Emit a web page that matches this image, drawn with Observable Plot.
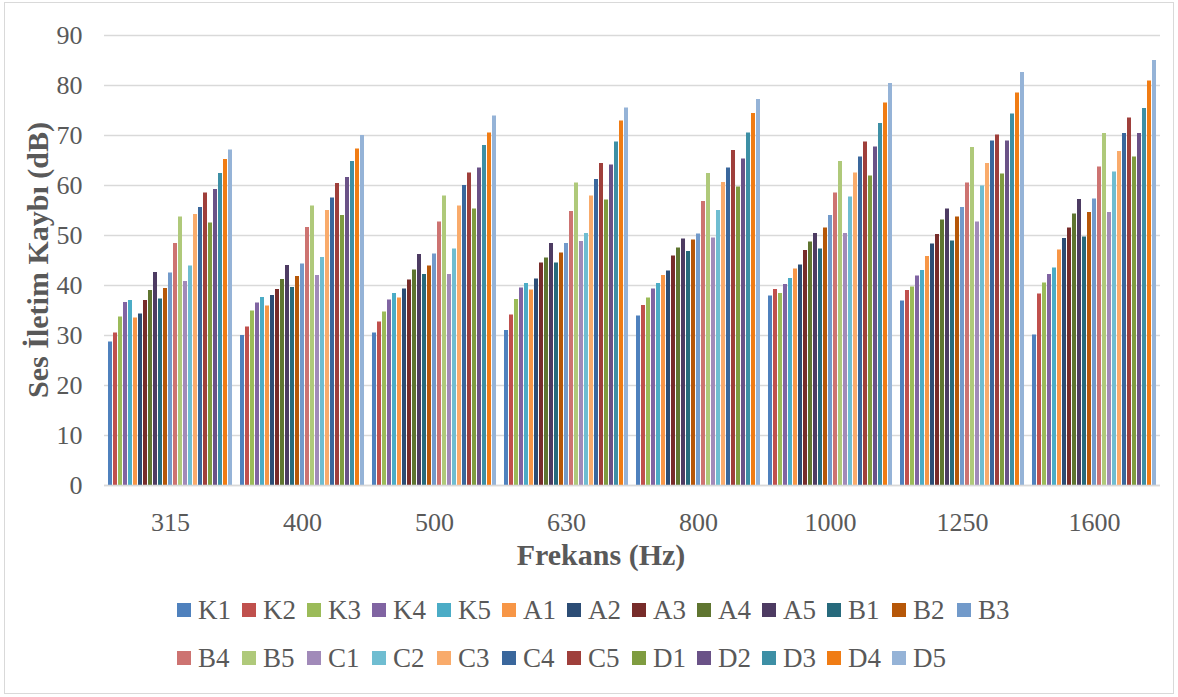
<!DOCTYPE html>
<html>
<head>
<meta charset="utf-8">
<script src="https://cdn.jsdelivr.net/npm/d3@7"></script>
<script src="https://cdn.jsdelivr.net/npm/@observablehq/plot@0.6"></script>
<style>
  body { margin: 0; background: #fff; }
  #wrap { position: relative; width: 1178px; height: 697px; font-family: "Liberation Serif", "Times New Roman", serif; }
  #frame { position: absolute; left: 4px; top: 2px; width: 1170px; height: 692px; border: 1px solid #d9d9d9; box-sizing: border-box; pointer-events: none; }
  #chart svg { display: block; }
  #ylabel { position: absolute; left: 38px; top: 260px; transform: translate(-50%, -50%) rotate(-90deg); white-space: nowrap; font-weight: bold; font-size: 30px; color: #595959; line-height: 1; }
  #xlabel { position: absolute; left: 601px; top: 555px; transform: translate(-50%, -50%); white-space: nowrap; font-weight: bold; font-size: 30px; color: #595959; line-height: 1; }
  #legend { position: absolute; left: 177px; top: 586px; width: 870px; display: flex; flex-wrap: wrap; }
  .item { width: 65px; height: 48px; display: flex; align-items: center; font-size: 27px; color: #595959; white-space: nowrap; }
  .sw { width: 14px; height: 14px; margin-right: 7px; flex: none; }
</style>
</head>
<body>
<div id="wrap">
  <div id="chart"></div>
  <div id="ylabel">Ses İletim Kaybı (dB)</div>
  <div id="xlabel">Frekans (Hz)</div>
  <div id="legend"></div>
  <div id="frame"></div>
</div>
<script>
const frequencies = ["315", "400", "500", "630", "800", "1000", "1250", "1600"];
const series = ["K1","K2","K3","K4","K5","A1","A2","A3","A4","A5","B1","B2","B3","B4","B5","C1","C2","C3","C4","C5","D1","D2","D3","D4","D5"];
const colors = ["#4F81BD","#C0504D","#9BBB59","#8064A2","#4BACC6","#F79646","#2C4D75","#772C2A","#5F7530","#4D3B62","#276A7C","#B65708","#729ACA","#CD7371","#AFC97A","#A18AB9","#6FBDD1","#F9AB6B","#3A679C","#9F3F3B","#7F9C40","#6A5287","#3D8FA5","#F07C14","#95B3D7"];

const f315  = [28.7,30.5,33.7,36.6,37.0,33.5,34.3,37.0,39.0,42.6,37.3,39.4,42.5,48.4,53.7,40.8,43.9,54.2,55.6,58.5,52.5,59.2,62.4,65.2,67.1];
const f400  = [30.0,31.7,34.9,36.5,37.6,35.9,38.0,39.2,41.2,44.0,39.6,41.8,44.3,51.6,55.9,42.0,45.6,55.0,57.5,60.4,54.0,61.6,64.8,67.3,70.0];
const f500  = [30.5,32.7,34.7,37.1,38.4,37.5,39.3,41.1,43.1,46.2,42.2,43.9,46.3,52.7,57.9,42.2,47.3,55.9,60.0,62.5,55.3,63.5,68.0,70.5,73.9];
const f630  = [31.0,34.1,37.2,39.5,40.4,39.1,41.3,44.5,45.5,48.4,44.5,46.5,48.4,54.8,60.5,48.8,50.4,57.9,61.2,64.4,57.1,64.1,68.7,72.9,75.5];
const f800  = [33.9,36.0,37.5,39.3,40.4,42.0,42.9,45.9,47.5,49.3,46.8,49.1,50.3,56.8,62.4,49.5,55.0,60.6,63.5,67.0,59.7,65.3,70.5,74.4,77.2];
const f1000 = [37.9,39.2,38.4,40.2,41.4,43.3,44.1,47.0,48.7,50.4,47.3,51.5,54.0,58.5,64.8,50.4,57.7,62.5,65.7,68.7,61.9,67.7,72.4,76.5,80.4];
const f1250 = [36.9,39.0,39.7,41.9,43.0,45.8,48.3,50.2,53.1,55.3,48.9,53.7,55.6,60.5,67.6,52.7,59.9,64.4,68.9,70.1,62.3,68.9,74.3,78.5,82.6];
const f1600 = [30.1,38.3,40.5,42.2,43.5,47.1,49.4,51.5,54.3,57.2,49.7,54.6,57.3,63.7,70.4,54.6,62.7,66.8,70.4,73.5,65.7,70.4,75.4,80.9,85.0];

const yTicks = [0,10,20,30,40,50,60,70,80,90];

const valuesByFreq = [f315, f400, f500, f630, f800, f1000, f1250, f1600];
const data = [];
frequencies.forEach((f, i) => {
  series.forEach((s, j) => data.push({freq: f, series: s, value: valuesByFreq[i][j]}));
});

const plot = Plot.plot({
  width: 1178,
  height: 580,
  marginLeft: 103,
  marginRight: 18,
  marginTop: 35,
  marginBottom: 95,
  style: {fontFamily: '"Liberation Serif", "Times New Roman", serif', fontSize: "26px", color: "#595959", background: "#fff"},
  fx: {domain: frequencies, padding: 0, label: null},
  x: {domain: series, paddingInner: 0.15, paddingOuter: 0.7, axis: null},
  y: {domain: [0, 90], ticks: yTicks, label: null},
  color: {domain: series, range: colors},
  marks: [
    Plot.gridY(yTicks, {stroke: "#d9d9d9", strokeOpacity: 1, strokeWidth: 1.3}),
    Plot.axisY(yTicks, {tickSize: 0, tickPadding: 22, label: null, fill: "#595959"}),
    Plot.axisFx({anchor: "bottom", tickSize: 0, tickPadding: 27, label: null, fill: "#595959"}),
    Plot.barY(data, {fx: "freq", x: "series", y: "value", fill: "series"}),
    Plot.ruleY([0], {stroke: "#d9d9d9", strokeWidth: 1.3})
  ]
});
document.getElementById("chart").appendChild(plot);

const legend = document.getElementById("legend");
series.forEach((s, i) => {
  const it = document.createElement("div");
  it.className = "item";
  const sw = document.createElement("span");
  sw.className = "sw";
  sw.style.background = colors[i];
  it.appendChild(sw);
  const t = document.createElement("span");
  t.textContent = s;
  it.appendChild(t);
  legend.appendChild(it);
  if (i === 12) {
    const br = document.createElement("div");
    br.style.flexBasis = "100%";
    br.style.height = "0";
    legend.appendChild(br);
  }
});
</script>
</body>
</html>
